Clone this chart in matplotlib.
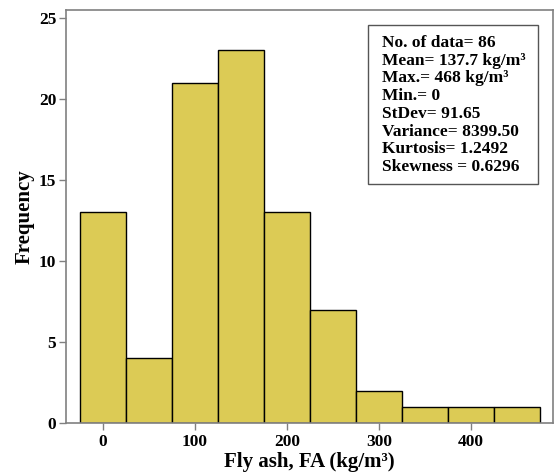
import numpy as np
import matplotlib.pyplot as plt
from matplotlib.patches import Rectangle

# Fly ash histogram: bin centres (kg/m³) and counts
bin_centres = [0, 50, 100, 150, 200, 250, 300, 350, 400, 450]
counts = [13, 4, 21, 23, 13, 7, 2, 1, 1, 1]
bin_width = 50

stats_lines = [
    "No. of data= 86",
    "Mean= 137.7 kg/m³",
    "Max.= 468 kg/m³",
    "Min.= 0",
    "StDev= 91.65",
    "Variance= 8399.50",
    "Kurtosis= 1.2492",
    "Skewness = 0.6296",
]

plt.rcParams['font.family'] = ['Liberation Serif', 'DejaVu Serif']
plt.rcParams['font.weight'] = 'bold'

fig = plt.figure(figsize=(5.54, 4.74), dpi=100)
ax = fig.add_axes([66 / 554, 1 - 423 / 474, (553 - 66) / 554, (423 - 10) / 474])

ax.bar(bin_centres, counts, width=bin_width, color='#DCCB55',
       edgecolor='black', linewidth=1.0)

ax.set_xlim(-40, 489)
ax.set_ylim(0, 25.5)
ax.set_xticks([0, 100, 200, 300, 400])
ax.set_yticks([0, 5, 10, 15, 20, 25])
ax.tick_params(axis='both', labelsize=12.5, color='#808080', length=5, width=1)
ax.tick_params(axis='x', pad=3)
ax.tick_params(axis='y', pad=2)
for lbl in ax.get_xticklabels() + ax.get_yticklabels():
    lbl.set_fontweight('bold')
for sp in ax.spines.values():
    sp.set_color('#808080')
    sp.set_linewidth(1.2)

ax.set_xlabel("Fly ash, FA (kg/m³)", fontsize=15, fontweight='bold', labelpad=1)
ax.set_ylabel("Frequency", fontsize=15, fontweight='bold', labelpad=3)

# statistics box
ax.add_patch(Rectangle((0.620, 0.579), 0.349, 0.385, transform=ax.transAxes,
                       facecolor='white', edgecolor='#555555', linewidth=1.0,
                       zorder=3))
y0, dy = 0.920, 0.0429
for i, line in enumerate(stats_lines):
    ax.text(0.649, y0 - i * dy, line, transform=ax.transAxes,
            fontsize=12.5, fontweight='bold', va='center', ha='left', zorder=4)

fig.savefig('out.png', dpi=100)
